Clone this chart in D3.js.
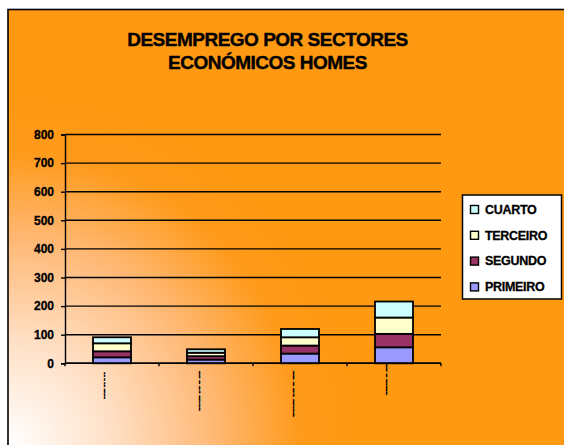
<!DOCTYPE html>
<html><head><meta charset="utf-8">
<script src="https://cdn.jsdelivr.net/npm/d3@7"></script>
<style>html,body{margin:0;padding:0;background:#fff;}svg{display:block;font-family:"Liberation Sans",Arial,sans-serif;}</style>
</head><body><div id="chart"></div>
<script>
const categories = ["16 a 19 anos", "20 a 24 anos", "25 a 54 anos", "55 e máis"];
const seriesNames = ["PRIMEIRO", "SEGUNDO", "TERCEIRO", "CUARTO"];
const primeiro = [21, 13, 34, 56];
const segundo = [21, 12, 28, 47];
const terceiro = [28, 12, 29, 57];
const cuarto = [21, 12, 29, 56];
const yTicks = [0, 100, 200, 300, 400, 500, 600, 700, 800];
const titleLines = ["DESEMPREGO POR SECTORES", "ECONÓMICOS HOMES"];
const colors = ["#9999FF", "#993366", "#FFFFCC", "#CCFFFF"];

const W = 564, H = 445;
const svg = d3.select("#chart").append("svg").attr("width", W).attr("height", H);
const defs = svg.append("defs");
const grad = defs.append("radialGradient").attr("id", "bg")
  .attr("gradientUnits", "userSpaceOnUse").attr("cx", 8).attr("cy", 445).attr("r", 345);
[[0, "#FFFFFF"], [0.3, "#FFE0C6"], [0.6, "#FFB874"], [0.85, "#FF9A1A"], [1, "#FF9912"]]
  .forEach(([o, c]) => grad.append("stop").attr("offset", o).attr("stop-color", c));

svg.append("rect").attr("x", 8).attr("y", 9.5).attr("width", W + 10).attr("height", H + 10)
  .attr("fill", "url(#bg)").attr("stroke", "#000").attr("stroke-width", 1.6);

const m = {l: 65, r: 441, t: 134.5, b: 363.3};
const x = d3.scaleBand().domain(categories).range([m.l, m.r]).paddingInner(0).paddingOuter(0);
const y = d3.scaleLinear().domain([0, 800]).range([m.b, m.t]);

// title
svg.append("g").selectAll("text").data(titleLines).join("text")
  .attr("x", 267.5).attr("y", (d, i) => 46 + i * 23.3)
  .attr("text-anchor", "middle").attr("font-size", 19).attr("font-weight", "bold")
  .attr("letter-spacing", -0.5).attr("fill", "#000")
  .attr("stroke", "#000").attr("stroke-width", 0.4).text(d => d);

// gridlines
svg.append("g").selectAll("line").data(yTicks).join("line")
  .attr("x1", m.l).attr("x2", m.r).attr("y1", d => y(d)).attr("y2", d => y(d))
  .attr("stroke", "#000").attr("stroke-width", 1.4);

// y axis
const yAxis = svg.append("g").attr("transform", `translate(${m.l},0)`)
  .call(d3.axisLeft(y).tickValues(yTicks).tickSize(4).tickPadding(7));
yAxis.select(".domain").attr("stroke", "#000").attr("stroke-width", 1.4);
yAxis.selectAll(".tick line").attr("stroke", "#000").attr("stroke-width", 1.4);
yAxis.selectAll(".tick text").attr("font-size", 12).attr("font-weight", "bold")
  .attr("font-family", "Liberation Sans, Arial, sans-serif").attr("fill", "#000")
  .attr("stroke", "#000").attr("stroke-width", 0.3);

// stacked bars
const table = categories.map((c, i) => ({cat: c, PRIMEIRO: primeiro[i], SEGUNDO: segundo[i], TERCEIRO: terceiro[i], CUARTO: cuarto[i]}));
const stack = d3.stack().keys(seriesNames)(table);
const bw = 38;
svg.append("g").selectAll("g").data(stack).join("g").attr("fill", (d, i) => colors[i])
  .selectAll("rect").data(d => d).join("rect")
  .attr("x", d => x(d.data.cat) + x.bandwidth() / 2 - bw / 2)
  .attr("width", bw)
  .attr("y", d => y(d[1])).attr("height", d => y(d[0]) - y(d[1]))
  .attr("stroke", "#000").attr("stroke-width", 1.8);

// x axis
svg.append("line").attr("x1", m.l).attr("x2", m.r).attr("y1", y(0)).attr("y2", y(0))
  .attr("stroke", "#000").attr("stroke-width", 1.4);
const bounds = categories.map(c => x(c)).concat([m.r]);
svg.append("g").selectAll("line").data(bounds).join("line")
  .attr("x1", d => d).attr("x2", d => d).attr("y1", y(0)).attr("y2", y(0) + 3)
  .attr("stroke", "#000").attr("stroke-width", 1.4);

// category labels (compressed, rotated)
const labLen = [27, 40, 46, 31];
const labTop = [372, 371, 371, 364];
const labX = [105, 199.3, 293.3, 386.7];
svg.append("g").selectAll("text").data(categories).join("text")
  .attr("transform", (d, i) => `translate(${labX[i]},${labTop[i]}) rotate(90) scale(1,0.22)`)
  .attr("font-size", 9).attr("font-weight", "bold").attr("dominant-baseline", "middle")
  .attr("textLength", (d, i) => labLen[i]).attr("lengthAdjust", "spacingAndGlyphs")
  .attr("fill", "#000").attr("stroke", "#000").attr("stroke-width", 1.2).text(d => d);

// legend
const lg = svg.append("g");
lg.append("rect").attr("x", 462.5).attr("y", 195).attr("width", 99).attr("height", 104)
  .attr("fill", "#fff").attr("stroke", "#000").attr("stroke-width", 1.5);
const legendOrder = [3, 2, 1, 0];
const items = lg.selectAll("g").data(legendOrder).join("g")
  .attr("transform", (d, i) => `translate(470,${209.5 + i * 25.8})`);
items.append("rect").attr("x", 0.5).attr("y", -4).attr("width", 8).attr("height", 8)
  .attr("fill", d => colors[d]).attr("stroke", "#000").attr("stroke-width", 1.4);
items.append("text").attr("x", 15).attr("y", 4.3).attr("font-size", 12.5).attr("font-weight", "bold")
  .attr("letter-spacing", -0.3).attr("fill", "#000")
  .attr("stroke", "#000").attr("stroke-width", 0.3).text(d => seriesNames[d]);
</script>
</body></html>
